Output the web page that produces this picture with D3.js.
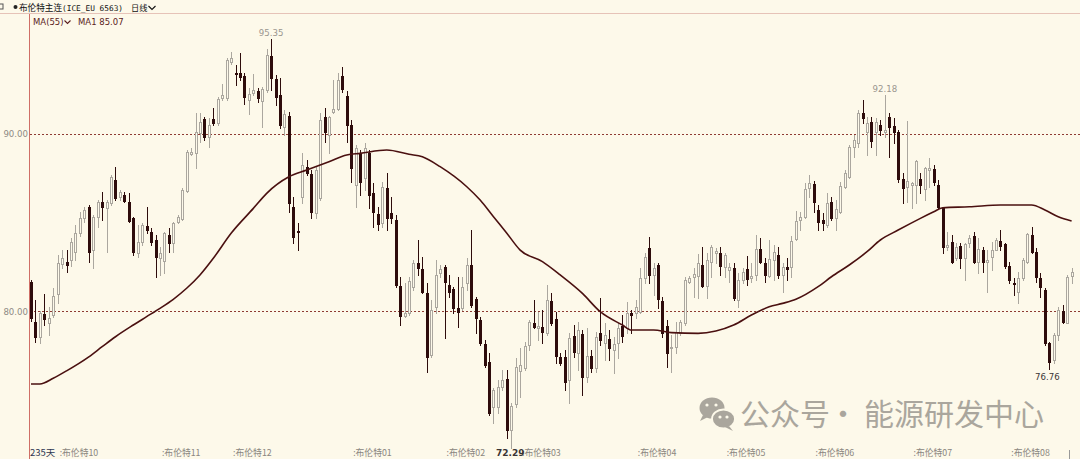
<!DOCTYPE html>
<html><head><meta charset="utf-8">
<script src="https://cdn.jsdelivr.net/npm/d3@7/dist/d3.min.js"></script>
<style>
html,body{margin:0;padding:0;background:#fdf9ea;}
svg{display:block;}
</style></head>
<body>
<svg id="c" width="1080" height="459"></svg>
<script>
// ---------------- data ----------------
const title = "布伦特主连";
const titleCode = "(ICE_EU 6563)";
const period = "日线";
const maLabel = "MA(55)";
const maValueLabel = "MA1 85.07";
const dayCountLabel = "235天";
const watermarkParts = ["公众号", "·", "能源研发中心"];

const open = [81.63,79.40,78.53,79.83,79.32,79.77,80.96,82.65,82.76,82.87,
83.32,84.39,85.24,85.86,83.43,85.29,86.14,85.80,86.08,87.38,
86.42,86.53,86.14,85.24,83.27,83.90,84.79,84.45,84.00,82.98,
82.82,84.28,83.83,85.01,85.18,86.76,88.84,88.90,90.03,90.82,
89.80,90.82,90.59,92.00,92.00,94.03,93.41,93.41,93.24,91.89,
92.28,92.39,91.83,92.45,94.37,93.07,92.17,90.37,90.98,85.86,
84.50,86.42,88.11,87.72,85.52,86.36,90.93,89.91,91.21,91.38,
93.24,92.11,90.48,87.10,88.90,87.49,88.90,86.65,85.46,84.96,
86.93,85.52,85.13,81.41,79.72,79.89,81.35,82.70,82.36,81.01,
77.52,80.22,82.14,82.48,81.46,81.24,80.17,80.17,81.58,82.59,
80.67,79.49,78.14,77.13,74.59,74.59,75.72,76.17,73.29,74.76,
76.62,76.79,78.08,79.32,79.04,79.10,78.76,80.56,79.55,77.41,
77.41,76.11,78.59,77.63,78.70,76.28,77.46,76.79,78.76,78.20,
78.42,77.80,78.20,79.15,79.04,79.89,79.89,79.94,81.86,83.55,
82.03,82.59,80.56,79.15,77.91,77.97,78.76,79.32,81.63,81.91,
81.97,82.59,81.41,82.76,83.27,83.27,82.48,82.31,82.42,80.62,
81.75,82.36,81.86,82.03,83.49,82.70,81.97,82.87,83.15,82.03,
82.48,82.48,84.05,85.13,85.29,86.93,87.15,85.69,85.13,84.84,
86.14,85.24,85.58,86.99,87.55,89.24,89.46,91.15,90.08,90.65,
90.08,90.48,90.10,90.93,90.42,90.08,87.44,86.99,87.10,87.10,
87.44,86.87,87.94,88.00,87.10,85.80,83.60,83.89,82.98,83.66,
82.98,83.83,84.22,82.76,83.43,82.76,83.04,83.43,83.94,83.77,
82.53,81.58,81.07,81.86,82.76,84.28,83.32,81.86,81.18,78.20,
77.24,78.65,80.00,79.32,81.97];

const high = [81.75,80.62,80.00,80.96,80.22,81.29,83.15,83.43,83.43,84.11,
84.84,85.58,85.86,85.97,85.41,86.25,86.70,86.25,87.66,88.11,
86.82,86.70,86.65,85.29,84.84,84.96,85.86,84.67,84.28,83.60,
84.45,84.67,85.01,85.41,86.93,89.07,89.18,91.15,91.15,90.93,
90.87,91.43,92.06,92.79,94.25,94.59,93.86,94.53,93.41,92.56,
93.35,92.56,92.62,94.76,95.35,93.29,93.13,91.32,91.21,86.42,
84.96,88.90,88.51,87.94,88.11,91.15,91.43,90.98,93.01,93.41,
93.75,92.39,90.76,89.35,89.07,89.46,89.07,87.21,85.86,87.27,
87.77,86.42,85.41,81.91,81.58,81.91,82.87,84.00,83.04,81.58,
80.62,82.87,82.59,82.59,82.03,81.35,81.91,81.91,82.98,84.56,
80.79,79.66,78.37,77.63,75.66,76.11,76.67,76.67,74.82,77.35,
77.91,78.25,79.49,80.62,79.94,80.05,81.46,81.01,79.94,77.63,
77.80,78.76,79.21,79.38,78.93,79.04,77.80,78.82,80.73,79.32,
78.93,78.53,79.32,79.77,80.51,80.05,80.62,82.42,83.27,84.17,
82.70,82.70,80.79,79.49,78.65,79.38,79.49,81.91,81.97,82.42,
83.21,83.60,83.27,83.72,83.55,83.60,83.27,82.70,82.70,82.14,
82.42,83.10,82.70,84.28,84.11,82.98,84.00,83.72,83.60,82.70,
82.98,84.22,85.63,85.58,87.21,87.66,87.32,85.97,85.52,86.65,
86.42,86.25,87.27,87.94,89.35,89.91,91.32,91.89,90.93,90.93,
90.87,90.76,92.18,91.15,90.87,90.20,87.77,90.70,87.27,88.51,
87.77,88.11,88.62,88.22,87.38,85.86,84.45,84.28,83.83,83.83,
83.83,84.28,84.45,84.11,83.60,83.43,83.89,84.11,84.56,83.83,
82.76,81.86,82.20,82.98,84.39,84.73,83.55,82.14,81.29,78.25,
78.76,80.22,80.34,82.03,82.42];

const low = [79.43,78.25,78.20,79.21,78.65,79.66,80.45,82.42,82.20,82.53,
82.87,84.22,85.01,82.76,82.42,84.73,85.13,83.32,85.97,86.25,
86.25,86.14,85.01,83.15,83.04,83.72,84.39,83.72,81.91,82.03,
82.14,83.32,83.32,84.96,85.13,86.70,88.79,88.05,89.52,89.63,
89.24,90.48,90.48,91.89,91.89,93.91,92.73,93.01,91.66,91.10,
92.17,91.77,90.37,92.34,92.45,91.60,90.31,89.91,85.58,83.83,
83.43,86.08,87.66,85.24,85.24,86.25,89.52,88.90,91.15,91.32,
92.34,89.52,87.27,85.86,86.53,86.82,85.80,84.73,84.56,84.73,
84.56,84.96,81.35,79.21,79.66,79.77,81.18,82.03,81.01,76.56,
77.41,79.89,81.91,78.48,80.79,79.89,79.10,80.05,81.18,80.22,
78.76,78.08,76.84,74.14,73.69,74.25,75.55,72.84,72.29,74.59,
75.15,76.67,77.80,79.04,78.37,78.20,78.65,79.21,77.07,76.96,
75.55,74.82,77.41,76.67,75.27,76.00,76.56,76.56,78.08,77.24,
77.24,76.50,77.35,78.25,78.76,78.76,79.60,79.89,81.58,81.58,
80.90,80.17,78.53,76.84,76.56,77.63,78.65,79.21,81.58,80.79,
80.73,81.35,80.73,81.91,82.70,82.03,81.91,81.63,80.62,80.22,
81.58,81.46,81.63,81.75,82.70,81.63,81.91,81.75,81.86,81.07,
81.75,81.91,84.00,84.56,85.24,86.42,85.58,84.56,84.56,84.73,
85.13,84.56,85.52,86.93,87.49,88.67,89.24,90.59,88.79,89.24,
88.79,89.91,89.80,88.67,89.46,87.27,86.08,86.14,85.80,86.08,
86.65,86.25,86.99,87.10,85.80,83.27,83.43,82.70,82.87,82.42,
81.75,83.60,82.70,82.14,82.20,81.07,82.31,83.43,83.43,82.42,
81.58,80.90,80.45,81.75,82.70,83.27,81.63,80.79,78.08,76.76,
77.07,78.37,79.32,79.32,81.58];

const close = [79.60,78.55,79.88,79.55,79.60,80.84,82.70,82.98,82.59,83.90,
84.39,85.24,85.69,83.32,85.29,86.14,85.86,86.14,87.55,86.36,
86.70,86.20,85.07,83.32,83.90,84.84,84.56,83.90,83.04,83.27,
84.39,83.83,84.96,85.29,86.82,88.96,88.96,90.08,90.65,89.80,
90.48,90.59,91.94,92.17,94.14,94.25,93.35,93.18,92.06,92.22,
92.45,92.00,92.51,94.42,93.13,92.06,90.48,91.10,86.08,84.17,
84.45,88.22,87.77,85.58,87.94,90.76,90.08,90.93,91.38,93.01,
92.51,90.48,88.05,89.18,87.27,89.18,86.53,85.58,84.90,86.99,
85.24,85.24,81.46,79.72,79.89,81.69,82.70,82.42,81.07,77.41,
80.05,82.03,82.36,81.63,81.07,80.17,79.94,81.35,82.59,80.34,
79.60,78.20,76.96,74.25,75.55,75.72,76.11,73.29,74.65,76.84,
76.96,78.03,79.38,79.10,79.15,78.81,80.62,79.32,77.46,77.07,
76.00,78.48,77.69,78.93,76.28,77.46,76.79,78.53,78.37,78.65,
77.91,78.14,79.04,78.59,79.89,79.77,80.22,81.86,83.04,82.03,
82.42,80.67,78.76,77.63,77.97,78.81,79.38,81.75,81.86,82.08,
82.70,81.41,82.87,83.60,83.38,82.53,83.15,82.48,80.73,81.75,
82.20,81.80,81.97,83.49,82.76,82.03,82.93,83.32,82.03,82.48,
82.36,83.94,85.07,85.29,86.87,87.21,86.14,85.01,84.96,86.08,
85.24,85.74,87.04,87.77,89.24,89.63,91.15,90.87,90.59,89.58,
90.65,90.20,90.20,90.37,90.08,87.44,86.93,87.32,87.21,88.45,
87.10,88.05,88.05,87.27,85.86,83.60,83.72,82.76,83.60,82.98,
83.77,84.11,82.76,83.49,82.76,82.87,83.43,84.00,83.66,82.53,
81.75,81.52,81.86,82.87,84.34,83.32,81.91,81.35,78.20,77.13,
78.65,80.05,79.38,81.91,82.20];

// MA(55) at these bar indices
const maIndex = [0,2,5,8,13,16,19,23,26,29,32,35,38,41,45,50,53,58,62,67,71,74,80,85,88,92,98,101,104,107,110,115,119,124,128,133,135,140,144,150,154,158,162,166,169,172,177,180,184,188,191,195,200,203,205,211,218,225,228,231,234];
const maValue = [75.89,75.89,76.21,76.63,77.42,77.99,78.55,79.21,79.68,80.15,80.66,81.28,82.03,82.97,84.38,85.78,86.63,87.56,87.94,88.41,88.79,88.88,89.07,88.83,88.69,88.13,87.00,86.25,85.31,84.38,83.43,82.78,82.03,80.99,79.96,79.21,78.93,78.93,78.78,78.74,78.87,79.21,79.77,80.24,80.43,80.66,81.37,81.93,82.59,83.34,84.00,84.56,85.22,85.59,85.82,85.87,85.97,85.97,85.69,85.31,85.07];

const yTicks = [80, 90];
const monthLabels = ["布伦特10","布伦特11","布伦特12","布伦特01","布伦特02","布伦特03","布伦特04","布伦特05","布伦特06","布伦特07","布伦特08"];
const monthIndex = [7,30,46,73,94,111,137,157,177,199,221];
const highMarks = [54, 192];
const lowMarks = [229];
const axisLowMark = 108;

// ---------------- drawing ----------------
const W = 1080, H = 459;
const BG = "#fdf9ea";
const BULL = "#aba79f";
const BEAR = "#2e0c0c";
const svg = d3.select("#c");
svg.append("rect").attr("width", W).attr("height", H).attr("fill", BG);

const n = open.length;
const x = d3.scaleLinear().domain([0, n - 1]).range([31, 1071.6]);
const y = d3.scaleLinear().domain([80, 90]).range([311, 133.5]);

// frame lines
svg.append("line").attr("x1", 0).attr("x2", W).attr("y1", 13.5).attr("y2", 13.5)
  .attr("stroke", "#e6c3b8").attr("stroke-width", 1);
svg.append("line").attr("x1", 29.5).attr("x2", 29.5).attr("y1", 14).attr("y2", H)
  .attr("stroke", "#cf6f66").attr("stroke-width", 1);

// grid lines (dashed)
svg.append("g").selectAll("line").data(yTicks).join("line")
  .attr("x1", 30).attr("x2", W)
  .attr("y1", d => Math.round(y(d)) + 0.5).attr("y2", d => Math.round(y(d)) + 0.5)
  .attr("stroke", "#8e3b33").attr("stroke-width", 1).attr("stroke-dasharray", "2,2");

// y axis labels
const yAxis = d3.axisLeft(y).tickValues(yTicks).tickFormat(d3.format(".2f")).tickSize(0).tickPadding(0);
const yg = svg.append("g").attr("transform", "translate(28,0)").call(yAxis);
yg.select(".domain").remove();
yg.selectAll("text").attr("fill", "#8d8a84").attr("font-family", "DejaVu Sans, Verdana, sans-serif")
  .attr("font-size", "8.6px").attr("dy", "0.35em");

// candles
const idx = d3.range(n);
const cg = svg.append("g");
idx.forEach(i => {
  const o = open[i], c = close[i];
  const hi = Math.max(high[i], o, c), lo = Math.min(low[i], o, c);
  const up = c >= o;
  const cx = Math.round(x(i));
  const top = Math.round(y(Math.max(o, c)));
  const bot = Math.round(y(Math.min(o, c)));
  const col = up ? BULL : BEAR;
  cg.append("line").attr("x1", cx + 0.5).attr("x2", cx + 0.5)
    .attr("y1", Math.round(y(hi))).attr("y2", Math.round(y(lo)) + 1)
    .attr("stroke", col).attr("stroke-width", 1);
  if (up) {
    cg.append("rect").attr("x", cx - 0.5).attr("y", top + 0.5)
      .attr("width", 2).attr("height", Math.max(1, bot - top))
      .attr("fill", BG).attr("stroke", col).attr("stroke-width", 1);
  } else {
    cg.append("rect").attr("x", cx - 1).attr("y", top)
      .attr("width", 3).attr("height", Math.max(1, bot - top + 1))
      .attr("fill", col);
  }
});

// MA line
const maData = maIndex.map((d, k) => ({i: d, v: maValue[k]}));
svg.append("path").datum(maData)
  .attr("d", d3.line().x(d => x(d.i)).y(d => y(d.v)).curve(d3.curveMonotoneX))
  .attr("fill", "none").attr("stroke", "#4a1010").attr("stroke-width", 1.6);

// extreme labels
const numFont = "DejaVu Sans, Verdana, sans-serif";
highMarks.forEach(i => {
  svg.append("text").attr("x", x(i)).attr("y", y(high[i]) - 2.5)
    .attr("text-anchor", "middle").attr("fill", "#9a968f")
    .attr("font-family", numFont).attr("font-size", "8.6px").text(high[i].toFixed(2));
});
lowMarks.forEach(i => {
  svg.append("text").attr("x", x(i) - 2).attr("y", y(low[i]) + 11)
    .attr("text-anchor", "middle").attr("fill", "#3a3434")
    .attr("font-family", numFont).attr("font-size", "8.6px").text(low[i].toFixed(2));
});

// header
const cjk = "'Noto Sans CJK SC', sans-serif";
svg.append("rect").attr("x", -3).attr("y", 4).attr("width", 6).attr("height", 5)
  .attr("fill", "none").attr("stroke", "#555").attr("stroke-width", 1);
svg.append("circle").attr("cx", 15.5).attr("cy", 7).attr("r", 2).attr("fill", "#222");
svg.append("text").attr("x", 19).attr("y", 10.5).attr("font-family", cjk).attr("font-size", "8.6px")
  .attr("fill", "#111").text(title);
svg.append("text").attr("x", 62).attr("y", 10.5).attr("font-family", "'DejaVu Sans Mono', monospace")
  .attr("font-size", "7.8px").attr("fill", "#111").text(titleCode);
svg.append("text").attr("x", 131).attr("y", 10.5).attr("font-family", cjk).attr("font-size", "8.2px")
  .attr("fill", "#111").text(period);
svg.append("path").attr("d", "M148.5,6 L152,9.5 L155.5,6").attr("fill", "none").attr("stroke", "#111").attr("stroke-width", 1.1);

svg.append("text").attr("x", 33).attr("y", 25).attr("font-family", numFont).attr("font-size", "8.5px")
  .attr("fill", "#5a1c1c").text(maLabel);
svg.append("path").attr("d", "M64.5,20.5 L67.5,23.5 L70.5,20.5").attr("fill", "none").attr("stroke", "#5a1c1c").attr("stroke-width", 1.1);
svg.append("text").attr("x", 78).attr("y", 25).attr("font-family", numFont).attr("font-size", "8.5px")
  .attr("fill", "#5a1c1c").text(maValueLabel);

// bottom axis labels
svg.append("text").attr("x", 30).attr("y", 456).attr("font-family", cjk).attr("font-size", "9.5px")
  .attr("fill", "#2e3652").text(dayCountLabel);
svg.append("g").selectAll("text").data(monthLabels).join("text")
  .attr("x", (d, k) => x(monthIndex[k]) - 2.5).attr("y", 456)
  .attr("font-family", cjk).attr("font-size", "8.8px").attr("fill", "#8a8680")
  .text(d => ":" + d);
svg.append("text").attr("x", x(axisLowMark) - 1).attr("y", 456).attr("text-anchor", "middle")
  .attr("font-family", numFont).attr("font-size", "9px").attr("font-weight", "bold")
  .attr("fill", "#3a3434").text(low[axisLowMark].toFixed(2));
svg.append("line").attr("x1", 1069.5).attr("x2", 1069.5).attr("y1", 450).attr("y2", 459)
  .attr("stroke", "#999").attr("stroke-width", 1);

// watermark
const wm = svg.append("g").attr("fill", "#aaa69d");
wm.append("ellipse").attr("cx", 712).attr("cy", 408).attr("rx", 12.5).attr("ry", 10.5);
wm.append("path").attr("d", "M703,415 L700,421 L708,417 Z");
wm.append("ellipse").attr("cx", 723.5).attr("cy", 419).attr("rx", 11.5).attr("ry", 9.5)
  .attr("stroke", BG).attr("stroke-width", 1.8);
wm.append("path").attr("d", "M729,426 L733,431 L725,427 Z");
[[707,405],[716,405],[720,417],[727,417]].forEach(p => {
  svg.append("circle").attr("cx", p[0]).attr("cy", p[1]).attr("r", 1.6).attr("fill", BG);
});
const wmX = [740, 843, 864];
const wmAnchor = ["start", "middle", "start"];
watermarkParts.forEach((t, k) => {
  svg.append("text").attr("x", wmX[k]).attr("y", 424.5).attr("text-anchor", wmAnchor[k])
    .attr("font-family", cjk).attr("font-size", "30px").attr("fill", "#aaa69d").text(t);
});
</script>
</body></html>
